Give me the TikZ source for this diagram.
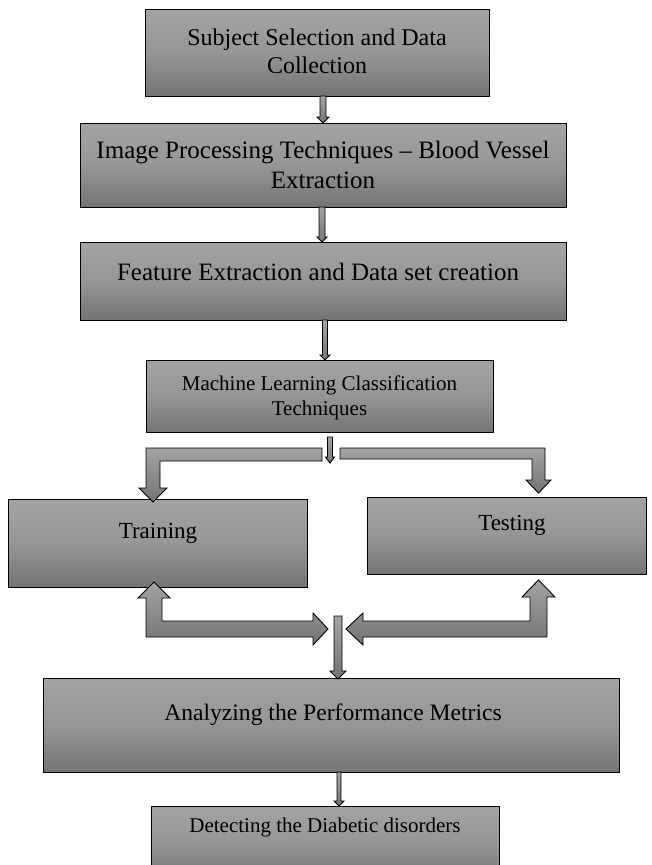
\documentclass[tikz,border=0pt]{standalone}
\usepackage{fontspec}
\setmainfont{Liberation Serif}
\definecolor{gtop}{RGB}{163,163,163}
\definecolor{gmid}{RGB}{150,150,150}
\definecolor{gbot}{RGB}{116,116,116}
\newcommand\thinarr[6]{% x, top y, tip y, half shaft, half head, head length
  \path[blk] (#1-#4,#2) -- (#1+#4,#2) -- (#1+#4,#3-#6) -- (#1+#5,#3-#6) -- (#1,#3)
    -- (#1-#5,#3-#6) -- (#1-#4,#3-#6) -- cycle;}
\begin{document}
\begin{tikzpicture}[x=1pt,y=-1pt,
  box/.style={shape=rectangle, draw=black, line width=1pt, top color=gtop, bottom color=gbot,
    middle color=gmid, inner sep=0pt, outer sep=0pt},
  blk/.style={draw=black, line width=0.9pt, line join=miter, top color=gtop, bottom color=gbot},
  lbl/.style={inner sep=0pt, align=center, text=black}]
\useasboundingbox (0,0) rectangle (651,865);
\clip (0,0) rectangle (651,865);

% boxes
\node[box, minimum width=344pt, minimum height=87pt] (b1) at (317,52.5) {};
\node[box, minimum width=486pt, minimum height=84pt] (b2) at (323,165) {};
\node[box, minimum width=486pt, minimum height=78pt] (b3) at (323,281) {};
\node[box, minimum width=347pt, minimum height=72pt] (b4) at (319.5,396) {};
\node[box, minimum width=299pt, minimum height=88pt] (tr) at (157.5,543) {};
\node[box, minimum width=279pt, minimum height=77pt] (te) at (506.5,535.5) {};
\node[box, minimum width=576pt, minimum height=94pt] (b5) at (331,725) {};
\node[box, minimum width=348pt, minimum height=74pt] (b6) at (325,843) {};

% texts
\node[lbl, font=\fontsize{24}{28}\selectfont] (t1) at (317,51) {Subject Selection and Data\\Collection};
\node[lbl, font=\fontsize{25}{30}\selectfont] (t2) at (323,165) {Image Processing Techniques – Blood Vessel\\Extraction};
\node[lbl, font=\fontsize{25}{30}\selectfont] (t3) at (318,272) {Feature Extraction and Data set creation};
\node[lbl, font=\fontsize{21}{25}\selectfont] (t4) at (319.5,397.5) {Machine Learning Classification\\Techniques};
\node[lbl, font=\fontsize{23}{27}\selectfont] (ttr) at (158,533) {Training};
\node[lbl, font=\fontsize{23}{27}\selectfont] (tte) at (512,525) {Testing};
\node[lbl, font=\fontsize{23.6}{28}\selectfont] (t5) at (333,715) {Analyzing the Performance Metrics};
\node[lbl, font=\fontsize{21}{25}\selectfont] (t6) at (325,827) {Detecting the Diabetic disorders};

% thin arrows
\thinarr{323}{96}{123}{3}{6}{6}
\thinarr{322}{207}{242}{3}{5}{5}
\thinarr{325}{320}{360}{2.5}{5}{5}
\thinarr{330}{437}{463}{2.5}{4.5}{6}
\thinarr{338}{616}{679}{4}{8}{8}
\thinarr{339}{772}{806}{2}{5}{5}

% split arrows to Training / Testing
\path[blk] (322,448) -- (146,448) -- (146,488) -- (139,488) -- (153,502) -- (167,488)
  -- (160,488) -- (160,461) -- (322,461) -- cycle;
\path[blk] (340,448) -- (545,448) -- (545,480) -- (551,480) -- (538.5,493) -- (526,480)
  -- (532,480) -- (532,459) -- (340,459) -- cycle;

% merge arrows from Training / Testing
\path[blk] (146,637) -- (146,598) -- (138,598) -- (154,582) -- (170,598) -- (162,598)
  -- (162,621) -- (313,621) -- (313,613) -- (328,629) -- (313,645) -- (313,637) -- cycle;
\path[blk] (346,629) -- (363,613) -- (363,621) -- (530,621) -- (530,597) -- (522,597)
  -- (538.5,580) -- (555,597) -- (547,597) -- (547,637) -- (363,637) -- (363,645) -- cycle;
\end{tikzpicture}
\end{document}
